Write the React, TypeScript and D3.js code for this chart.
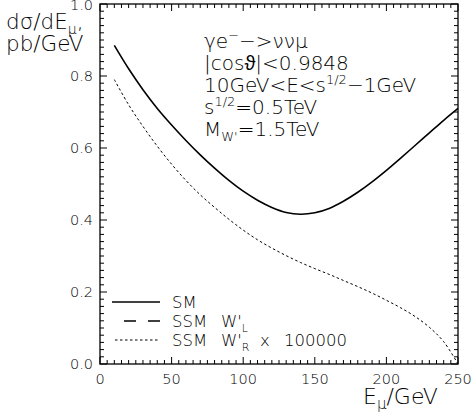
import React from 'react'
import * as d3 from 'd3'

// energies (GeV) for both curves
const ENERGY = [10, 20, 30, 40, 50, 60, 70, 80, 90, 100, 110, 120, 130, 140, 150, 160, 170, 180, 190, 200, 210, 220, 230, 240, 250]
// SM cross section, pb/GeV
const SM = [0.885, 0.82, 0.762, 0.71, 0.664, 0.621, 0.581, 0.544, 0.51, 0.48, 0.455, 0.435, 0.421, 0.416, 0.42, 0.432, 0.452, 0.477, 0.506, 0.538, 0.572, 0.607, 0.642, 0.677, 0.71]
// SSM W'_R x 100000
const SSM_R = [0.79, 0.72, 0.66, 0.605, 0.555, 0.51, 0.47, 0.435, 0.402, 0.372, 0.345, 0.322, 0.301, 0.282, 0.265, 0.249, 0.232, 0.215, 0.197, 0.177, 0.156, 0.132, 0.102, 0.062, 0.0]

const X_TICKS = [0, 50, 100, 150, 200, 250]
const Y_TICKS = [0, 0.2, 0.4, 0.6, 0.8, 1.0]

const frame = { left: 100, right: 458, top: 4, bottom: 364 }
const font = '"DejaVu Sans", "Liberation Sans", sans-serif'
const weight = 200

export default function App() {
  const x = d3.scaleLinear().domain([0, 250]).range([frame.left, frame.right])
  const y = d3.scaleLinear().domain([0, 1]).range([frame.bottom, frame.top])

  const line = d3.line<number>()
    .x((_, i) => x(ENERGY[i]))
    .y(d => y(d))
    .curve(d3.curveCatmullRom)

  const xMinor = d3.range(0, 251, 5)
  const yMinor = d3.range(0, 1.0001, 0.02)

  return (
    <svg width={471} height={412} style={{ position: 'absolute', left: 0, top: 0 }}>
      <rect x={0} y={0} width={471} height={412} fill="#fff" />

      {/* frame */}
      <rect x={frame.left} y={frame.top} width={frame.right - frame.left} height={frame.bottom - frame.top}
        fill="none" stroke="#000" strokeWidth={1.3} />

      {/* x ticks, bottom and top */}
      {xMinor.map((v, i) => {
        const len = v % 50 === 0 ? 7 : 4
        return (
          <g key={'xt' + i} stroke="#000" strokeWidth={1}>
            <line x1={x(v)} x2={x(v)} y1={frame.bottom} y2={frame.bottom - len} />
            <line x1={x(v)} x2={x(v)} y1={frame.top} y2={frame.top + len} />
          </g>
        )
      })}
      {/* y ticks, left and right */}
      {yMinor.map((v, i) => {
        const len = i % 10 === 0 ? 7 : 4
        return (
          <g key={'yt' + i} stroke="#000" strokeWidth={1}>
            <line x1={frame.left} x2={frame.left + len} y1={y(v)} y2={y(v)} />
            <line x1={frame.right} x2={frame.right - len} y1={y(v)} y2={y(v)} />
          </g>
        )
      })}

      <g fontFamily={font} fontWeight={weight} fill="#000">
        {/* tick labels */}
        {X_TICKS.map(v => (
          <text key={'xl' + v} x={x(v)} y={384} textAnchor="middle" fontSize={14.5}>{v}</text>
        ))}
        {Y_TICKS.map(v => (
          <text key={'yl' + v} x={93} y={v === 1 ? y(v) + 6 : y(v) + 5} textAnchor="end" fontSize={14.5}>{v.toFixed(1)}</text>
        ))}

        {/* axis titles */}
        <text x={6} y={29} fontSize={21.5}>
          dσ/dE<tspan dy={5} fontSize={14}>μ</tspan><tspan dy={-5}>,</tspan>
        </text>
        <text x={6} y={51} fontSize={21.5}>pb/GeV</text>
        <text x={363} y={404} fontSize={22}>
          E<tspan dy={5} fontSize={15}>μ</tspan><tspan dy={-5}>/GeV</tspan>
        </text>

        {/* annotation */}
        <g fontSize={20}>
          <text x={204} y={48}>
            γe<tspan dy={-8} fontSize={13}>−</tspan><tspan dy={8}>−&gt;ννμ</tspan>
          </text>
          <text x={204} y={70}>|cosϑ|&lt;0.9848</text>
          <text x={204} y={92}>10GeV&lt;E&lt;s<tspan dy={-8} fontSize={13}>1/2</tspan><tspan dy={8}>−1GeV</tspan></text>
          <text x={204} y={114}>s<tspan dy={-8} fontSize={13}>1/2</tspan><tspan dy={8}>=0.5TeV</tspan></text>
          <text x={204} y={136}>M<tspan dy={5} fontSize={13}>W'</tspan><tspan dy={-5}>=1.5TeV</tspan></text>
        </g>

        {/* legend labels */}
        <g fontSize={16.5}>
          <text x={172} y={308}>SM</text>
          <text x={172} y={327}>SSM</text>
          <text x={221} y={327}>W'<tspan dy={5} fontSize={11}>L</tspan></text>
          <text x={172} y={346}>SSM</text>
          <text x={221} y={346}>W'<tspan dy={5} fontSize={11}>R</tspan></text>
          <text x={260} y={346}>x</text>
          <text x={284} y={346}>100000</text>
        </g>
      </g>

      {/* curves */}
      <path d={line(SM) ?? ''} fill="none" stroke="#000" strokeWidth={1.6} />
      <path d={line(SSM_R) ?? ''} fill="none" stroke="#000" strokeWidth={1} strokeDasharray="2.5,2.5" />

      {/* legend lines */}
      <g stroke="#000" fill="none">
        <line x1={112} x2={160} y1={302} y2={302} strokeWidth={1.4} />
        <line x1={124} x2={160} y1={321} y2={321} strokeWidth={1.4} strokeDasharray="12,12" />
        <line x1={115} x2={160} y1={340} y2={340} strokeWidth={1} strokeDasharray="2.5,2.5" />
      </g>
    </svg>
  )
}
